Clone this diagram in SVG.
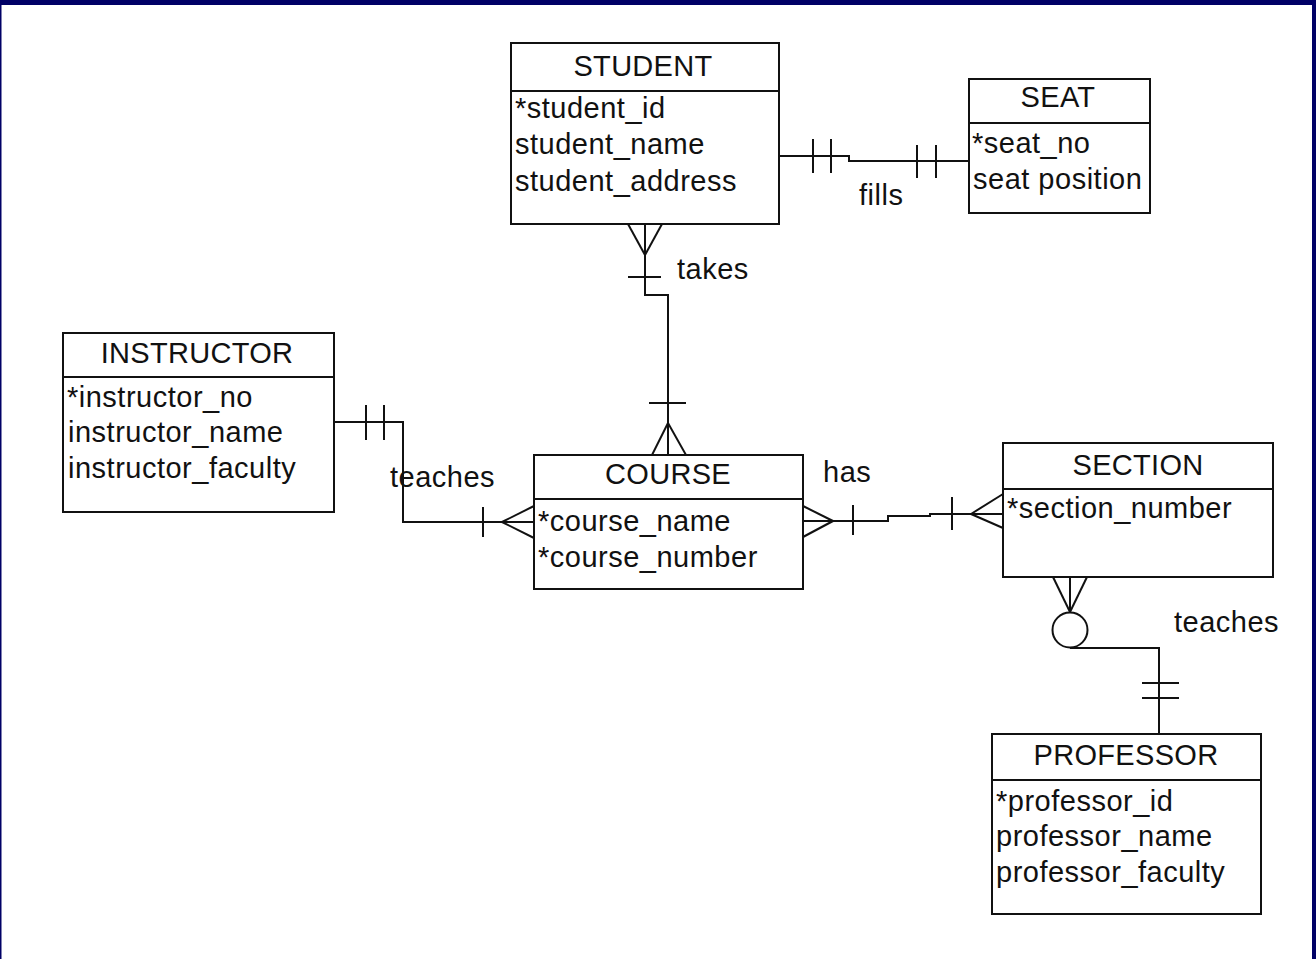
<svg xmlns="http://www.w3.org/2000/svg" width="1316" height="959" viewBox="0 0 1316 959">
<style>
.box{fill:#fff;stroke:#111;stroke-width:2}
.ln{fill:none;stroke:#111;stroke-width:2}
text{font-family:"Liberation Sans",Arial,sans-serif;font-size:29px;fill:#111;letter-spacing:0.5px}
.h{text-anchor:middle;letter-spacing:0.3px}
</style>
<rect x="0" y="0" width="1316" height="959" fill="#fff"/>
<rect x="0" y="0" width="1316" height="5" fill="#000066"/>
<rect x="0" y="0" width="1.5" height="959" fill="#000066"/>
<rect x="1312" y="0" width="4" height="959" fill="#000066"/>
<g id="connectors" class="ln">
<g id="fills">
<polyline points="779,156 849,156 849,161 969,161"/>
<line x1="813" y1="139" x2="813" y2="173"/>
<line x1="831" y1="139" x2="831" y2="173"/>
<line x1="917" y1="145" x2="917" y2="178"/>
<line x1="936" y1="145" x2="936" y2="178"/>
</g>
<g id="takes">
<polyline points="645,224 645,295 668,295 668,455"/>
<line x1="628" y1="224" x2="645" y2="255"/>
<line x1="662" y1="224" x2="645" y2="255"/>
<line x1="628" y1="277" x2="661" y2="277"/>
<line x1="652" y1="455" x2="668" y2="423"/>
<line x1="686" y1="455" x2="668" y2="423"/>
<line x1="649" y1="403" x2="686" y2="403"/>
</g>
<g id="teaches1">
<polyline points="334,422 403,422 403,522 534,522"/>
<line x1="366" y1="405" x2="366" y2="440"/>
<line x1="384" y1="405" x2="384" y2="440"/>
<line x1="483" y1="507" x2="483" y2="537"/>
<line x1="502" y1="522" x2="534" y2="506"/>
<line x1="502" y1="522" x2="534" y2="538"/>
</g>
<g id="has">
<polyline points="803,521 888,521 888,516 930,516 930,514 1003,514"/>
<line x1="803" y1="506" x2="833" y2="521"/>
<line x1="803" y1="537" x2="833" y2="521"/>
<line x1="853" y1="505" x2="853" y2="535"/>
<line x1="952" y1="497" x2="952" y2="530"/>
<line x1="971" y1="514" x2="1003" y2="494"/>
<line x1="971" y1="514" x2="1003" y2="528"/>
</g>
<g id="teaches2">
<line x1="1070" y1="577" x2="1070" y2="612"/>
<line x1="1053" y1="577" x2="1070" y2="612"/>
<line x1="1087" y1="577" x2="1070" y2="612"/>
<circle cx="1070" cy="630" r="17.5"/>
<polyline points="1070,648 1159,648 1159,734"/>
<line x1="1142" y1="683" x2="1179" y2="683"/>
<line x1="1142" y1="698" x2="1179" y2="698"/>
</g>
</g>
<g id="labels">
<text x="677" y="279">takes</text>
<text x="859" y="205">fills</text>
<text x="390" y="487">teaches</text>
<text x="823" y="482">has</text>
<text x="1174" y="632">teaches</text>
</g>
<g id="student">
<rect class="box" x="511" y="43" width="268" height="181"/>
<line class="ln" x1="511" y1="91" x2="779" y2="91"/>
<text class="h" x="643" y="76">STUDENT</text>
<text x="515" y="118">*student_id</text>
<text x="515" y="154">student_name</text>
<text x="515" y="191">student_address</text>
</g>
<g id="seat">
<rect class="box" x="969" y="79" width="181" height="134"/>
<line class="ln" x1="969" y1="123" x2="1150" y2="123"/>
<text class="h" x="1058" y="107">SEAT</text>
<text x="972" y="153">*seat_no</text>
<text x="973" y="189">seat position</text>
</g>
<g id="instructor">
<rect class="box" x="63" y="333" width="271" height="179"/>
<line class="ln" x1="63" y1="377" x2="334" y2="377"/>
<text class="h" x="197" y="363">INSTRUCTOR</text>
<text x="67" y="407">*instructor_no</text>
<text x="68" y="442">instructor_name</text>
<text x="68" y="478">instructor_faculty</text>
</g>
<g id="course">
<rect class="box" x="534" y="455" width="269" height="134"/>
<line class="ln" x1="534" y1="499" x2="803" y2="499"/>
<text class="h" x="668" y="484">COURSE</text>
<text x="538" y="531">*course_name</text>
<text x="538" y="567">*course_number</text>
</g>
<g id="section">
<rect class="box" x="1003" y="443" width="270" height="134"/>
<line class="ln" x1="1003" y1="489" x2="1273" y2="489"/>
<text class="h" x="1138" y="475">SECTION</text>
<text x="1007" y="518">*section_number</text>
</g>
<g id="professor">
<rect class="box" x="992" y="734" width="269" height="180"/>
<line class="ln" x1="992" y1="780" x2="1261" y2="780"/>
<text class="h" x="1126" y="765">PROFESSOR</text>
<text x="996" y="811">*professor_id</text>
<text x="996" y="846">professor_name</text>
<text x="996" y="882">professor_faculty</text>
</g>
</svg>
